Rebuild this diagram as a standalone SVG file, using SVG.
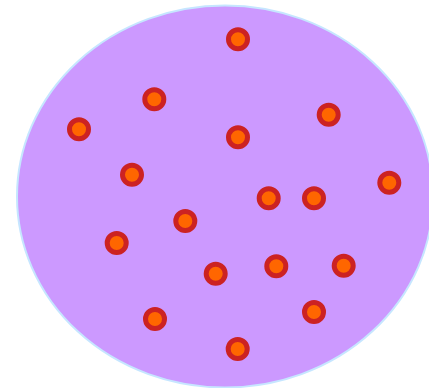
<svg xmlns="http://www.w3.org/2000/svg" width="429" height="388" viewBox="0 0 429 388">
<style>
.cell{fill:#cc99ff;stroke:#c6e6ff;stroke-width:2}
.dot{fill:#ff6600;stroke:#cc2222;stroke-width:5}
</style>
<rect width="429" height="388" fill="#ffffff"/>
<g id="cell"><ellipse class="cell" cx="225" cy="196.5" rx="208" ry="191"/></g>
<g id="dots">
<g id="d1"><circle class="dot" cx="238" cy="39.3" r="9.5"/></g>
<g id="d2"><circle class="dot" cx="154.3" cy="99.3" r="9.5"/></g>
<g id="d3"><circle class="dot" cx="328.7" cy="114.7" r="9.5"/></g>
<g id="d4"><circle class="dot" cx="79" cy="129.3" r="9.5"/></g>
<g id="d5"><circle class="dot" cx="238" cy="137.3" r="9.5"/></g>
<g id="d6"><circle class="dot" cx="132" cy="174.7" r="9.5"/></g>
<g id="d7"><circle class="dot" cx="389.3" cy="182.7" r="9.5"/></g>
<g id="d8"><circle class="dot" cx="268.7" cy="198.3" r="9.5"/></g>
<g id="d9"><circle class="dot" cx="314" cy="198.3" r="9.5"/></g>
<g id="d10"><circle class="dot" cx="185.3" cy="221" r="9.5"/></g>
<g id="d11"><circle class="dot" cx="116.7" cy="243" r="9.5"/></g>
<g id="d12"><circle class="dot" cx="215.7" cy="273.7" r="9.5"/></g>
<g id="d13"><circle class="dot" cx="276.3" cy="266.3" r="9.5"/></g>
<g id="d14"><circle class="dot" cx="343.7" cy="265.7" r="9.5"/></g>
<g id="d15"><circle class="dot" cx="314" cy="312" r="9.5"/></g>
<g id="d16"><circle class="dot" cx="155" cy="319" r="9.5"/></g>
<g id="d17"><circle class="dot" cx="237.7" cy="349" r="9.5"/></g>
</g>
<g id="connectors"/>
</svg>
